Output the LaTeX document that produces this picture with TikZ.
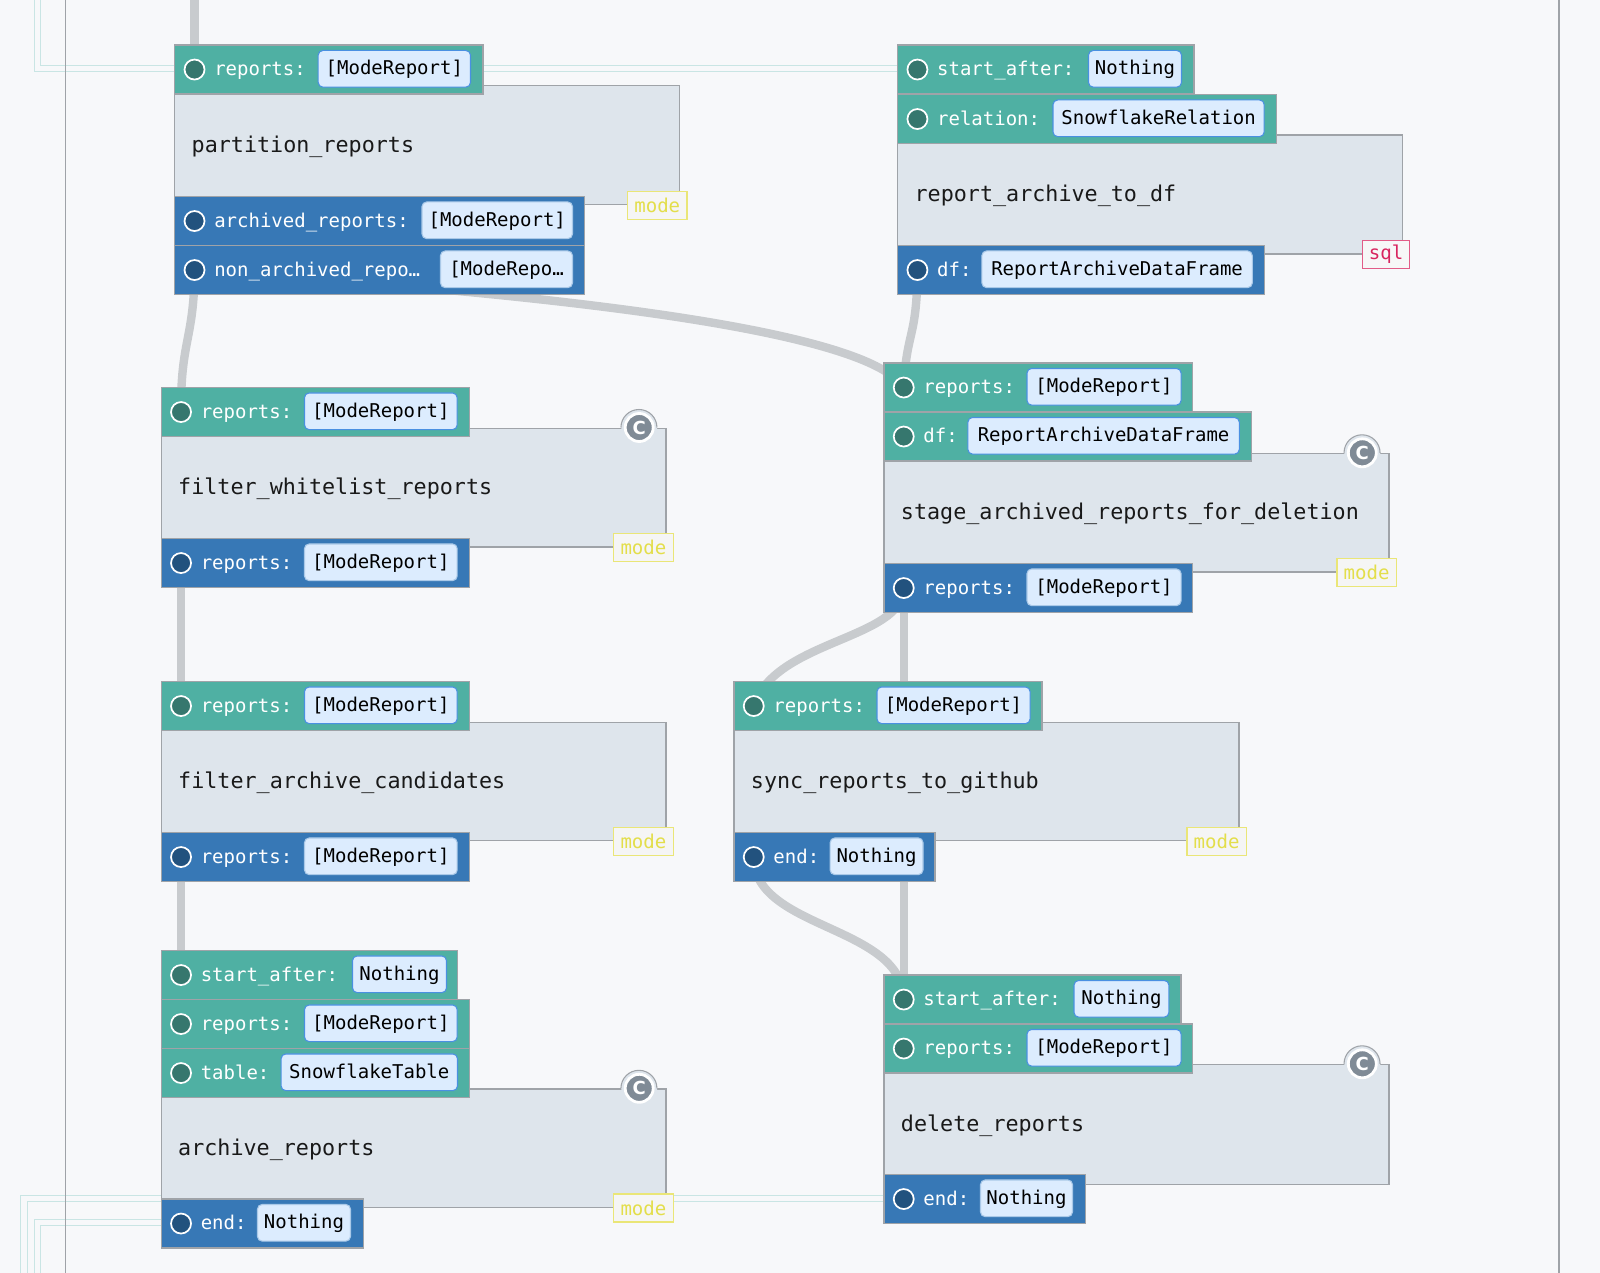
\documentclass[tikz,border=0pt]{standalone}
\usepackage{fontspec}
\usepackage{xcolor}
\setmonofont{DejaVu Sans Mono}
\setsansfont{DejaVu Sans}
\usetikzlibrary{backgrounds}
\definecolor{pagebg}{HTML}{F7F8FA}
\definecolor{edgegray}{HTML}{9FA3A8}
\definecolor{pipegray}{HTML}{C8CBCE}
\definecolor{wiregreen}{HTML}{C9E5E4}
\definecolor{bodyblue}{HTML}{DEE5EC}
\definecolor{inteal}{HTML}{4FB0A3}
\definecolor{outblue}{HTML}{3778B6}
\definecolor{indot}{HTML}{36776E}
\definecolor{outdot}{HTML}{22527E}
\definecolor{typefill}{HTML}{DCECFE}
\definecolor{typeedge}{HTML}{4A90E2}
\definecolor{tagyellow}{HTML}{E3DE4A}
\definecolor{tagpink}{HTML}{D8255F}
\definecolor{badgegray}{HTML}{808B96}
\tikzset{
    pipe/.style={draw=pipegray,line width=6.3pt},
    wire/.style={draw=wiregreen,line width=0.9pt},
    inrow/.style={draw=edgegray,fill=inteal,line width=1.1pt,inner sep=0pt,minimum height=36.75pt},
    outrow/.style={draw=edgegray,fill=outblue,line width=1.1pt,inner sep=0pt,minimum height=36.75pt},
    inrowport/.style={circle,draw=white,fill=indot,line width=1.3pt,inner sep=0pt,minimum size=15pt},
    outrowport/.style={circle,draw=white,fill=outdot,line width=1.3pt,inner sep=0pt,minimum size=15pt},
    rowtext/.style={font=\fontsize{14.25}{16}\selectfont\ttfamily,inner sep=0pt,text height=12pt,text depth=3pt},
    inrowtype/.style={rowtext,draw=typeedge,fill=typefill,line width=0.8pt,rounded corners=3.5pt,minimum height=27.5pt,text=black},
    outrowtype/.style={rowtext,draw=typefill!70!outblue,fill=typefill,line width=0.8pt,rounded corners=3.5pt,minimum height=27.5pt,text=black},
    opbody/.style={draw=edgegray,fill=bodyblue,line width=1.1pt,inner xsep=12.75pt,inner ysep=0pt,align=left,
        text height=14.3pt,text depth=3.5pt,font=\fontsize{16.3}{19}\selectfont\ttfamily,text=black!90},
    tagbox/.style={font=\fontsize{14.3}{16}\selectfont\ttfamily,inner sep=0pt,minimum height=21pt,line width=0.9pt,anchor=east},
    modetag/.style={tagbox,draw=tagyellow!75,fill=black!4,text=tagyellow,minimum width=44.5pt},
    sqltag/.style={tagbox,draw=tagpink!75,fill=black!3,text=tagpink,minimum width=35pt},
    badgering/.style={circle,fill=bodyblue,inner sep=0pt,minimum size=27pt},
    badge/.style={circle,draw=white,fill=badgegray,line width=2.1pt,inner sep=0pt,minimum size=21pt,
        text=white,font=\fontsize{13.5}{13.5}\selectfont\sffamily\bfseries}
}
\newcommand{\portrow}[9][inrow]{%
    \node[#1,minimum width={(#5-#3)*0.75pt},anchor=north west] (#2) at (#3,#4) {};
    \node[#1port] (#2p) at ([xshift=15.4pt]#2.west) {};
    \node[rowtext,text=white,anchor=west] (#2l) at ([xshift=30pt]#2.west) {#8};
    \node[#1type,minimum width={(#7-#6)*0.75pt}] (#2t) at ({(#6+#7)/2},{#4+24.5}) {#9};
}
\newcommand{\opbox}[6]{%
    \node[opbody,anchor=north west,text width={(#4-#2)*0.75pt-25.5pt},minimum height={(#5-#3)*0.75pt}] (#1) at (#2,#3) {#6};
}
\newcommand{\cbadge}[1]{%
    \node[badgering] (#1r) at ([xshift=-20.6pt]#1.north east) {};
    \draw[edgegray,line width=0.8pt] (#1r.west) arc[start angle=180,end angle=0,radius=13.5pt];
    \node[badge] (#1c) at (#1r) {C};
}

\begin{document}
\begin{tikzpicture}[x=0.75pt,y=-0.75pt]
    \useasboundingbox (0.5,0.2) rectangle (1600.5,1273.2);

    \opbox{partition}{174.5}{85}{679.5}{204}{partition\_reports}
    \portrow{partrep}{174.5}{44.5}{482.6}{318.7}{471}{reports:}{[ModeReport]}
    \portrow[outrow]{partarch}{174.5}{196}{584}{422.5}{573}{archived\_reports:}{[ModeReport]}
    \portrow[outrow]{partnon}{174.5}{245}{584}{441}{573}{non\_archived\_repo…}{[ModeRepo…}
    \node[modetag] (partm) at ([xshift=5.3pt]partition.south east) {mode};

    \opbox{archdf}{897.4}{134.3}{1402}{253.3}{report\_archive\_to\_df}
    \portrow{dfstart}{897.4}{44.5}{1193.6}{1089}{1182}{start\_after:}{Nothing}
    \portrow{dfrel}{897.4}{94}{1276}{1053.5}{1264.7}{relation:}{SnowflakeRelation}
    \portrow[outrow]{dfout}{897.4}{245}{1264}{982.4}{1252.8}{df:}{ReportArchiveDataFrame}
    \node[sqltag] (dfm) at ([xshift=5.3pt]archdf.south east) {sql};

    \opbox{whitelist}{161}{427.7}{665.7}{546.3}{filter\_whitelist\_reports}
    \portrow{whitein}{161}{387}{469}{305}{457.7}{reports:}{[ModeReport]}
    \portrow[outrow]{whiteout}{161}{538}{469}{305}{457.7}{reports:}{[ModeReport]}
    \node[modetag] (whitem) at ([xshift=5.3pt]whitelist.south east) {mode};
    \cbadge{whitelist}

    \opbox{candidates}{161}{721.7}{665.7}{840}{filter\_archive\_candidates}
    \portrow{candin}{161}{681}{469}{305}{457.7}{reports:}{[ModeReport]}
    \portrow[outrow]{candout}{161}{832}{469}{305}{457.7}{reports:}{[ModeReport]}
    \node[modetag] (candm) at ([xshift=5.3pt]candidates.south east) {mode};

    \opbox{archive}{161}{1088.5}{665.7}{1206.7}{archive\_reports}
    \portrow{archstart}{161}{950}{457}{353}{447}{start\_after:}{Nothing}
    \portrow{archrep}{161}{999}{469}{305}{457.7}{reports:}{[ModeReport]}
    \portrow{archtab}{161}{1048}{469}{281.6}{458}{table:}{SnowflakeTable}
    \portrow[outrow]{archend}{161}{1198.5}{363}{258}{351}{end:}{Nothing}
    \node[modetag] (archm) at ([xshift=5.3pt]archive.south east) {mode};
    \cbadge{archive}

    \opbox{stage}{883.7}{453}{1388.8}{571.4}{stage\_archived\_reports\_for\_deletion}
    \portrow{stagerep}{883.7}{362.5}{1192}{1027.5}{1181.6}{reports:}{[ModeReport]}
    \portrow{stagedf}{883.7}{411.5}{1251}{968.4}{1239.8}{df:}{ReportArchiveDataFrame}
    \portrow[outrow]{stageout}{883.7}{563}{1192}{1027.5}{1181.6}{reports:}{[ModeReport]}
    \node[modetag] (stagem) at ([xshift=5.3pt]stage.south east) {mode};
    \cbadge{stage}

    \opbox{sync}{733.7}{721.7}{1238.8}{840}{sync\_reports\_to\_github}
    \portrow{syncin}{733.7}{681}{1041.8}{877.5}{1030.6}{reports:}{[ModeReport]}
    \portrow[outrow]{syncout}{733.7}{832}{934.7}{830.6}{923.5}{end:}{Nothing}
    \node[modetag] (syncm) at ([xshift=5.3pt]sync.south east) {mode};

    \opbox{delete}{883.7}{1064}{1388.8}{1183.7}{delete\_reports}
    \portrow{delstart}{883.7}{974.5}{1180.6}{1074.5}{1169.4}{start\_after:}{Nothing}
    \portrow{delrep}{883.7}{1023.5}{1192}{1027.5}{1181.6}{reports:}{[ModeReport]}
    \portrow[outrow]{delend}{883.7}{1174}{1085}{981}{1073}{end:}{Nothing}
    \cbadge{delete}

    \coordinate (pipetop) at (195,-10);
    \coordinate (wireA) at (35,-10);
    \coordinate (wireB) at (41,-10);
    \coordinate (wireC) at (21.4,1284);
    \coordinate (wireD) at (27.7,1284);
    \coordinate (wireE) at (35,1284);
    \coordinate (wireF) at (41,1284);

    \begin{scope}[on background layer]
        \fill[pagebg] (0.5,0.2) rectangle (1600.5,1273.2);
        \draw[wire] (wireA) -- (35,72) -- (dfstart.west |- 0,72);
        \draw[wire] (wireB) -- (41,65.5) -- (dfstart.west |- 0,65.5);
        \draw[wire] (wireC) -- (21.4,1195.7) -- (delend.west |- 0,1195.7);
        \draw[wire] (wireD) -- (27.7,1201.3) -- (delend.west |- 0,1201.3);
        \draw[wire] (wireE) -- (35,1220) -- (archend.west |- 0,1220);
        \draw[wire] (wireF) -- (41,1226) -- (archend.west |- 0,1226);
        \draw[edgegray,line width=1pt] (66,0) -- (66,1275);
        \draw[edgegray,line width=1pt] (1559.5,0) -- (1559.5,1275);
        \draw[pipe] (pipetop) -- (partrepp.center -| pipetop);
        \draw[pipe] (partnonp.center) .. controls (194.6,340) and (181,340) .. (whiteinp.center);
        \draw[pipe] (partnonp.center) .. controls (420,286) and (860,318) .. (stagerepp.center);
        \draw[pipe] (dfoutp.center) .. controls (917.4,340) and (907,330) .. (stagerepp.center);
        \draw[pipe] (whiteoutp.center) -- (candinp.center);
        \draw[pipe] (candoutp.center) -- (archstartp.center);
        \draw[pipe] (stageoutp.center) .. controls (903.7,640) and (775,640) .. (syncinp.center);
        \draw[pipe] (stageoutp.center) -- (delstartp.center);
        \draw[pipe] (syncoutp.center) .. controls (753.7,930) and (903.7,925) .. (delstartp.center);
    \end{scope}
\end{tikzpicture}
\end{document}
